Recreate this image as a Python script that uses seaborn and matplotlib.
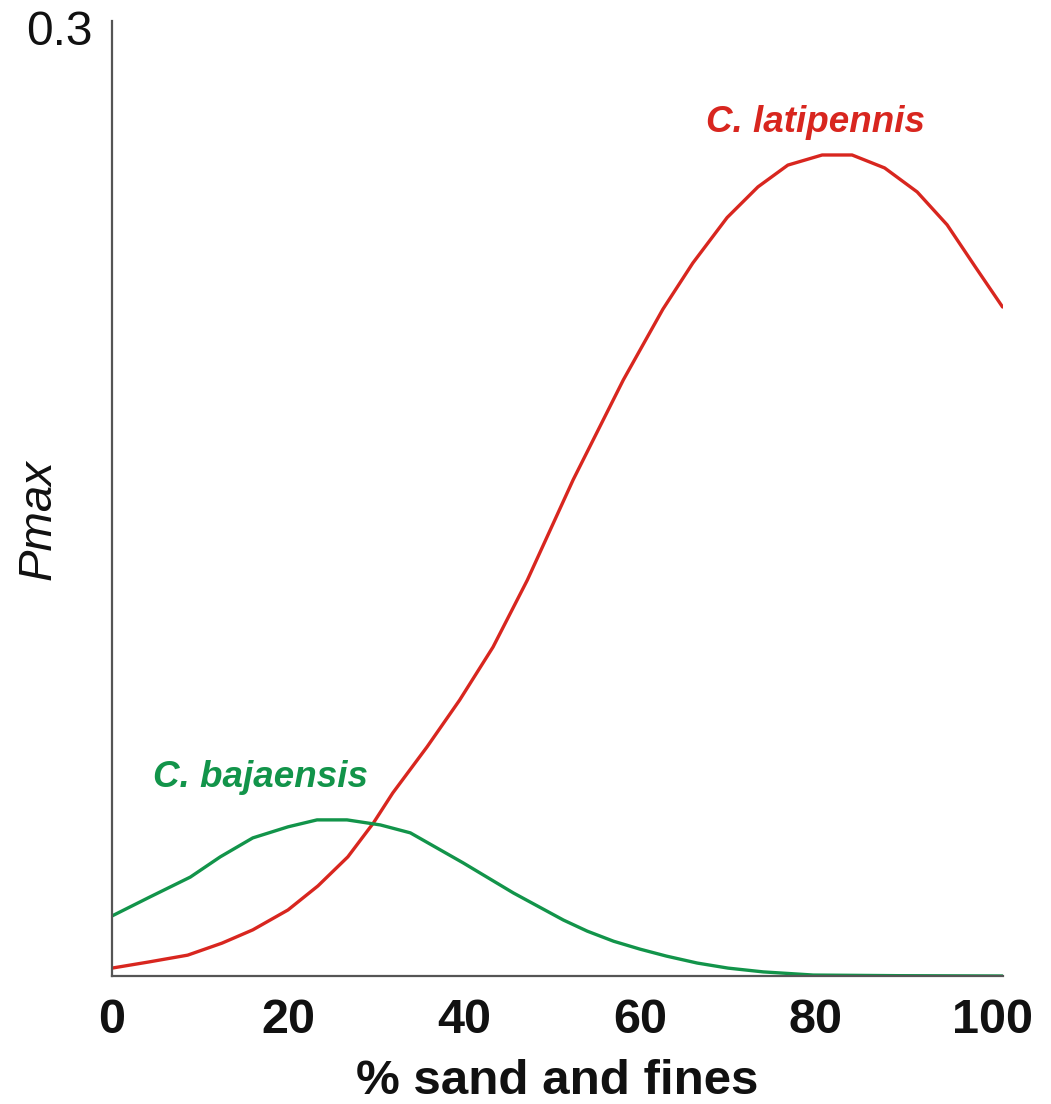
import pandas as pd
import matplotlib
matplotlib.use("Agg")
import matplotlib.pyplot as plt
import seaborn as sns

# Values
latipennis_x = [0, 4.1, 8.6, 12.5, 16.0, 20.0, 23.4, 26.8, 29.7, 31.9, 35.8, 39.5, 43.3, 47.2,
                52.4, 58.1, 62.6, 66.0, 69.9, 73.4, 76.8, 80.7, 84.1, 87.8, 91.5, 94.9, 98.1, 101.2]
latipennis_y = [0.0025, 0.0044, 0.0066, 0.0104, 0.0146, 0.0209, 0.0285, 0.0377, 0.0484, 0.0579,
                0.0725, 0.0873, 0.1041, 0.1253, 0.157, 0.1886, 0.211, 0.2256, 0.240, 0.2497,
                0.2566, 0.2598, 0.2598, 0.2557, 0.2481, 0.2377, 0.2244, 0.2117]

bajaensis_x = [0, 4.3, 8.9, 12.3, 16.0, 20.0, 23.3, 26.7, 30.5, 33.9, 39.9, 45.6, 51.3, 54.0,
               57.0, 60.0, 63.0, 66.5, 70.0, 74.0, 79.7, 89.5, 101.2]
bajaensis_y = [0.0190, 0.0250, 0.0313, 0.0377, 0.0437, 0.0472, 0.0494, 0.0494, 0.0478, 0.0453,
               0.0358, 0.0263, 0.0177, 0.0142, 0.0110, 0.0085, 0.0063, 0.0041, 0.0025, 0.0013,
               0.0003, 0.0001, 0.0]

x_ticks = [0, 20, 40, 60, 80, 100]
y_ticks = [0.3]

RED = "#d8261f"
GREEN = "#12944a"

df = pd.concat([
    pd.DataFrame({"sand": latipennis_x, "pmax": latipennis_y, "species": "C. latipennis"}),
    pd.DataFrame({"sand": bajaensis_x, "pmax": bajaensis_y, "species": "C. bajaensis"}),
])

sns.set_style("white")
plt.rcParams["font.family"] = ["Liberation Sans", "DejaVu Sans"]
plt.rcParams["text.color"] = "#111111"
plt.rcParams["axes.labelcolor"] = "#111111"
plt.rcParams["xtick.color"] = "#111111"
plt.rcParams["ytick.color"] = "#111111"

fig = plt.figure(figsize=(10.51, 11.04), dpi=100)
ax = fig.add_axes([112 / 1051, 1 - 976 / 1104, (1003 - 112) / 1051, (976 - 21) / 1104])

sns.lineplot(data=df, x="sand", y="pmax", hue="species",
             palette={"C. latipennis": RED, "C. bajaensis": GREEN},
             linewidth=2.4, legend=False, ax=ax, sort=False)

ax.set_xlim(0, 101.25)
ax.set_ylim(0, 0.3022)

for s in ["top", "right"]:
    ax.spines[s].set_visible(False)
for s in ["left", "bottom"]:
    ax.spines[s].set_color("#555555")
    ax.spines[s].set_linewidth(1.6)

ax.set_xticks(x_ticks)
ax.set_xticklabels([str(t) for t in x_ticks], fontsize=35, fontweight="bold")
ax.tick_params(axis="x", direction="inout", length=9, width=1.6, color="#333333", pad=11)
ax.set_yticks(y_ticks)
ax.set_yticklabels(["0.3"], fontsize=34.5)
ax.tick_params(axis="y", length=0, pad=14)

ax.set_xlabel("% sand and fines", fontsize=35.5, fontweight="bold", labelpad=12)
ax.set_ylabel("Pmax", fontsize=34, fontstyle="italic")
ax.yaxis.set_label_coords(-0.058, 0.4775)

ax.text(80, 0.270, "C. latipennis", color=RED, fontsize=26.5, fontweight="bold",
        fontstyle="italic", ha="center", va="center")
ax.text(16.9, 0.0627, "C. bajaensis", color=GREEN, fontsize=26.5, fontweight="bold",
        fontstyle="italic", ha="center", va="center")

fig.savefig("out.png", dpi=100)
